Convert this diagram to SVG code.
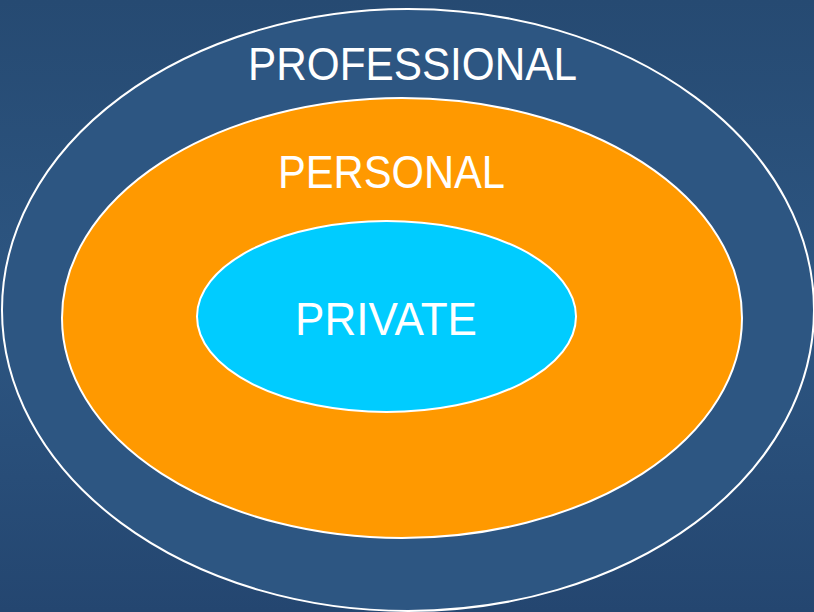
<svg xmlns="http://www.w3.org/2000/svg" width="814" height="612" viewBox="0 0 814 612">
<defs>
<linearGradient id="bg" x1="0" y1="0" x2="0" y2="1">
<stop offset="0" stop-color="#264a72"/>
<stop offset="0.5" stop-color="#2d5682"/>
<stop offset="1" stop-color="#244670"/>
</linearGradient>
<style>
.ring{stroke:#ffffff;stroke-width:2}
.lbl{font-family:"Liberation Sans","DejaVu Sans",sans-serif;fill:#ffffff;font-size:46px;text-anchor:middle}
</style>
</defs>
<rect width="814" height="612" fill="url(#bg)"/>
<g id="professional">
<ellipse class="ring" cx="408" cy="310" rx="406" ry="301" fill="#2d5682"/>
<text class="lbl" x="412.5" y="80" textLength="329" lengthAdjust="spacingAndGlyphs">PROFESSIONAL</text>
</g>
<g id="personal">
<ellipse class="ring" cx="402" cy="318" rx="340" ry="220" fill="#ff9900"/>
<text class="lbl" x="391.5" y="188" textLength="227" lengthAdjust="spacingAndGlyphs">PERSONAL</text>
</g>
<g id="private">
<ellipse class="ring" cx="386.5" cy="316.5" rx="189.5" ry="95.5" fill="#00ccff"/>
<text class="lbl" x="386" y="335" textLength="182" lengthAdjust="spacingAndGlyphs">PRIVATE</text>
</g>
<g id="connectors"/>
</svg>
